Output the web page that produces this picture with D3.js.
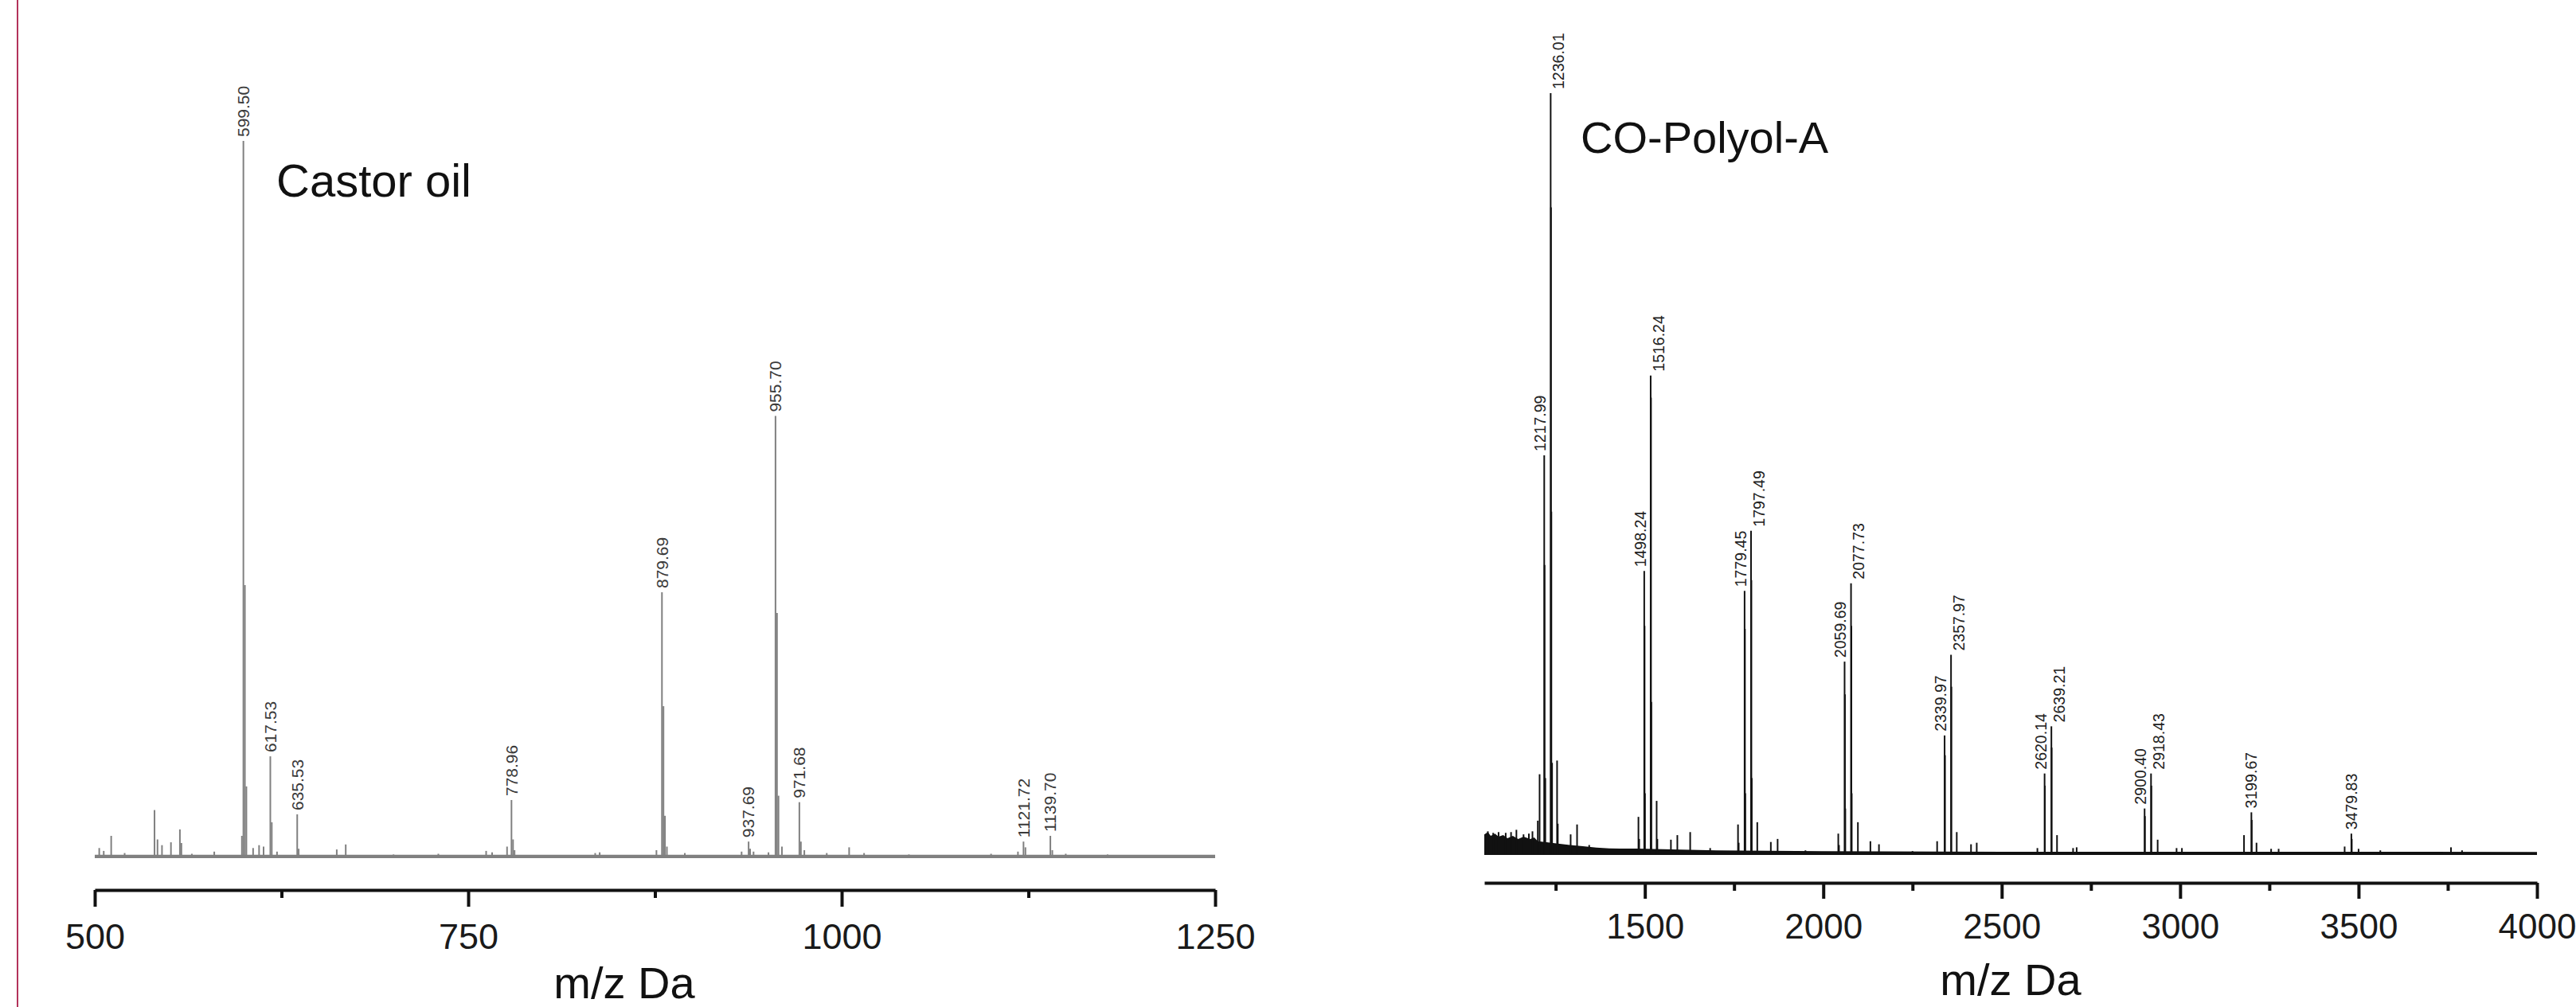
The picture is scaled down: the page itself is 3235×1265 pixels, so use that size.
<!DOCTYPE html>
<html>
<head>
<meta charset="utf-8">
<script src="https://cdn.jsdelivr.net/npm/d3@7"></script>
<style>
  html, body { margin: 0; padding: 0; background: #fff; }
  svg { display: block; font-family: "Liberation Sans", Arial, sans-serif; }
</style>
</head>
<body>
<div id="chart"></div>
<script>
// castor oil spectrum: [m/z, relative intensity]
const castorPeaks = [
  [503, 1.3], [506, 0.9], [511, 3.0], [520, 0.6], [540, 6.6], [542, 2.5], [545, 1.7],
  [551, 2.1], [557, 3.9], [558, 2.0], [565, 0.5], [580, 0.8], [598.5, 3.0],
  [599.50, 100], [600.5, 38], [601.5, 9.9], [606, 1.3], [610, 1.7], [613, 1.5],
  [617.53, 14.1], [618.5, 4.9], [622, 0.8], [635.53, 6.0], [636.5, 1.2], [662, 1.1],
  [668, 1.8], [700, 0.4], [730, 0.5], [762, 0.9], [766, 0.7], [776, 1.5],
  [778.96, 8.0], [780, 2.5], [781, 1.0], [835, 0.6], [838, 0.7], [876, 1.0],
  [879.69, 37.0], [880.7, 21.1], [881.7, 5.8], [883, 1.5], [895, 0.6], [933, 0.8],
  [937.69, 2.2], [938.7, 1.2], [941, 0.8], [951, 0.7], [955.70, 61.6], [956.7, 34.1],
  [957.7, 8.6], [960, 1.5], [971.68, 7.7], [972.7, 2.2], [975, 1.0], [990, 0.6],
  [1005, 1.4], [1015, 0.6], [1045, 0.4], [1100, 0.5], [1118, 0.8], [1121.72, 2.2],
  [1123, 1.4], [1139.70, 3.0], [1141, 1.0], [1150, 0.5], [1178, 0.4]
];
const castorLabels = [599.50, 617.53, 635.53, 778.96, 879.69, 937.69, 955.70, 971.68, 1121.72, 1139.70];
const castorNoiseMz = [500, 1250];
const castorNoise = [0.35, 0.35];
const castorMajorTicks = [500, 750, 1000, 1250];
const castorMinorTicks = [625, 875, 1125];

// CO-Polyol-A spectrum
const polyolPeaks = [
  [1060, 3.0], [1075, 2.8], [1090, 2.9], [1110, 2.8], [1125, 2.9], [1140, 3.2],
  [1160, 2.6], [1175, 2.7], [1185, 3.0],
  [1200, 4.4], [1205, 10.5], [1217.99, 52.4], [1219, 38], [1221, 10], [1236.01, 100],
  [1237, 85], [1238, 45], [1240, 12], [1254, 12.3], [1256, 4], [1292, 2.6], [1310, 3.9],
  [1344, 1.2], [1482, 4.9], [1484, 2], [1498.24, 37.2], [1499.2, 30], [1500.2, 8],
  [1516.24, 62.9], [1517.2, 60], [1518.2, 20], [1533, 7.0], [1535, 2], [1573, 1.9],
  [1591, 2.5], [1627, 2.9], [1683, 0.8], [1761, 3.9], [1763, 1.5], [1779.45, 34.6],
  [1780.4, 29.6], [1781.4, 8], [1797.49, 42.5], [1798.5, 36], [1799.5, 10], [1815, 4.2],
  [1853, 1.6], [1872, 2.0], [1950, 0.5], [2042, 2.7], [2044, 1.2], [2059.69, 25.3],
  [2060.7, 21], [2061.7, 6], [2077.73, 35.6], [2078.7, 30], [2079.7, 8], [2097, 4.2],
  [2132, 1.7], [2156, 1.3], [2250, 0.4], [2319, 1.7], [2339.97, 15.6], [2341, 13],
  [2357.97, 26.2], [2359, 22], [2374, 2.9], [2414, 1.3], [2430, 1.5], [2600, 0.8],
  [2620.14, 10.6], [2621, 9], [2639.21, 16.8], [2640, 14], [2655, 2.5], [2700, 0.8],
  [2710, 0.9], [2900.40, 6.0], [2901.4, 5], [2918.43, 10.6], [2919.4, 9], [2937, 1.9],
  [2990, 0.8], [3005, 0.8], [3179, 2.5], [3199.67, 5.5], [3200.7, 4.5], [3214, 1.5],
  [3255, 0.7], [3276, 0.7], [3461, 1.0], [3479.83, 2.7], [3481, 2.0], [3500, 0.7],
  [3561, 0.5], [3759, 0.9], [3790, 0.5]
];
const polyolLabels = [1217.99, 1236.01, 1498.24, 1516.24, 1779.45, 1797.49, 2059.69, 2077.73,
  2339.97, 2357.97, 2620.14, 2639.21, 2900.40, 2918.43, 3199.67, 3479.83];
const polyolNoiseMz = [1050, 1060, 1068, 1080, 1090, 1103, 1115, 1130, 1145, 1160, 1179, 1190,
  1200, 1220, 1252, 1290, 1326, 1364, 1400, 1475, 1550, 1700, 1850, 2000, 2500, 4000];
const polyolNoise = [2.6, 2.9, 2.4, 2.7, 2.3, 2.5, 2.1, 2.4, 2.0, 2.3, 2.0, 2.2,
  1.7, 1.6, 1.4, 1.2, 1.05, 0.85, 0.75, 0.72, 0.65, 0.5, 0.45, 0.4, 0.32, 0.3];
const polyolMajorTicks = [1500, 2000, 2500, 3000, 3500, 4000];
const polyolMinorTicks = [1250, 1750, 2250, 2750, 3250, 3750];

const width = 3235;
const height = 1265;

const svg = d3.select('#chart')
  .append('svg')
  .attr('width', width)
  .attr('height', height);

// thin red rule at the far left
svg.append('line')
  .attr('x1', 22).attr('x2', 22)
  .attr('y1', 0).attr('y2', height)
  .attr('stroke', '#b3325a')
  .attr('stroke-width', 2);

function drawPanel(p) {
  const x = d3.scaleLinear().domain(p.domain).range(p.xRange);
  const y = d3.scaleLinear().domain([0, 100]).range(p.yRange);
  const g = svg.append('g');

  // baseline noise
  const noise = p.noiseMz.map((m, i) => [m, p.noise[i]]);
  g.append('path')
    .datum(noise)
    .attr('fill', p.color)
    .attr('d', d3.area().x(d => x(d[0])).y0(y(0) + 1).y1(d => y(d[1])));

  // peaks as sticks
  g.selectAll('line.peak')
    .data(p.peaks)
    .enter()
    .append('line')
    .attr('class', 'peak')
    .attr('x1', d => x(d[0]))
    .attr('x2', d => x(d[0]))
    .attr('y1', y(0))
    .attr('y2', d => y(d[1]))
    .attr('stroke', p.color)
    .attr('stroke-width', 2);

  // peak labels; close pairs get pushed to either side of their lines
  const lookup = new Map(p.peaks.map(d => [d[0], d[1]]));
  const side = p.labels.map((d, i) => {
    const prev = p.labels[i - 1], next = p.labels[i + 1];
    if (next !== undefined && x(next) - x(d) < 20) return '0.1em';
    if (prev !== undefined && x(d) - x(prev) < 20) return '0.85em';
    return '0.35em';
  });
  g.selectAll('text.peak-label')
    .data(p.labels)
    .enter()
    .append('text')
    .attr('class', 'peak-label')
    .attr('transform', d => `translate(${x(d)},${y(lookup.get(d)) - 5}) rotate(-90)`)
    .attr('dy', (d, i) => side[i])
    .attr('font-size', p.labelSize)
    .attr('fill', p.labelColor)
    .text(d => d.toFixed(2));

  // x axis: major ticks with labels, then minor ticks
  const major = g.append('g')
    .attr('transform', `translate(0,${p.axisY})`)
    .call(d3.axisBottom(x)
      .tickValues(p.majorTicks)
      .tickSize(p.tickLen)
      .tickSizeOuter(0)
      .tickPadding(p.tickPad)
      .tickFormat(d3.format('d')));
  major.select('.domain').attr('stroke', '#111').attr('stroke-width', 4);
  major.selectAll('.tick line').attr('stroke', '#111').attr('stroke-width', 4);
  major.selectAll('.tick text')
    .attr('font-size', p.tickFont)
    .attr('fill', '#1a1a1a')
    .attr('font-family', '"Liberation Sans", Arial, sans-serif');

  const minor = g.append('g')
    .attr('transform', `translate(0,${p.axisY})`)
    .call(d3.axisBottom(x)
      .tickValues(p.minorTicks)
      .tickSize(10)
      .tickSizeOuter(0)
      .tickFormat(''));
  minor.select('.domain').remove();
  minor.selectAll('.tick line').attr('stroke', '#111').attr('stroke-width', 4);

  // panel name and axis title
  g.append('text')
    .attr('x', p.nameX).attr('y', p.nameY)
    .attr('font-size', p.nameSize)
    .attr('fill', '#111')
    .text(p.name);

  g.append('text')
    .attr('x', p.titleX).attr('y', p.titleY)
    .attr('text-anchor', 'middle')
    .attr('font-size', 56)
    .attr('fill', '#111')
    .text('m/z Da');
}

drawPanel({
  peaks: castorPeaks, labels: castorLabels,
  noiseMz: castorNoiseMz, noise: castorNoise,
  majorTicks: castorMajorTicks, minorTicks: castorMinorTicks,
  domain: [500, 1250], xRange: [119, 1526], yRange: [1077, 177],
  color: '#808080', labelColor: '#3a3a3a', labelSize: 21,
  axisY: 1118, tickLen: 21, tickPad: 21, tickFont: 45,
  name: 'Castor oil', nameX: 347, nameY: 247, nameSize: 58,
  titleX: 784, titleY: 1254
});

drawPanel({
  peaks: polyolPeaks, labels: polyolLabels,
  noiseMz: polyolNoiseMz, noise: polyolNoise,
  majorTicks: polyolMajorTicks, minorTicks: polyolMinorTicks,
  domain: [1050, 4000], xRange: [1864, 3186], yRange: [1073, 117],
  color: '#111', labelColor: '#222', labelSize: 19.5,
  axisY: 1109, tickLen: 20, tickPad: 19, tickFont: 44,
  name: 'CO-Polyol-A', nameX: 1985, nameY: 192, nameSize: 56,
  titleX: 2525, titleY: 1250
});
</script>
</body>
</html>
